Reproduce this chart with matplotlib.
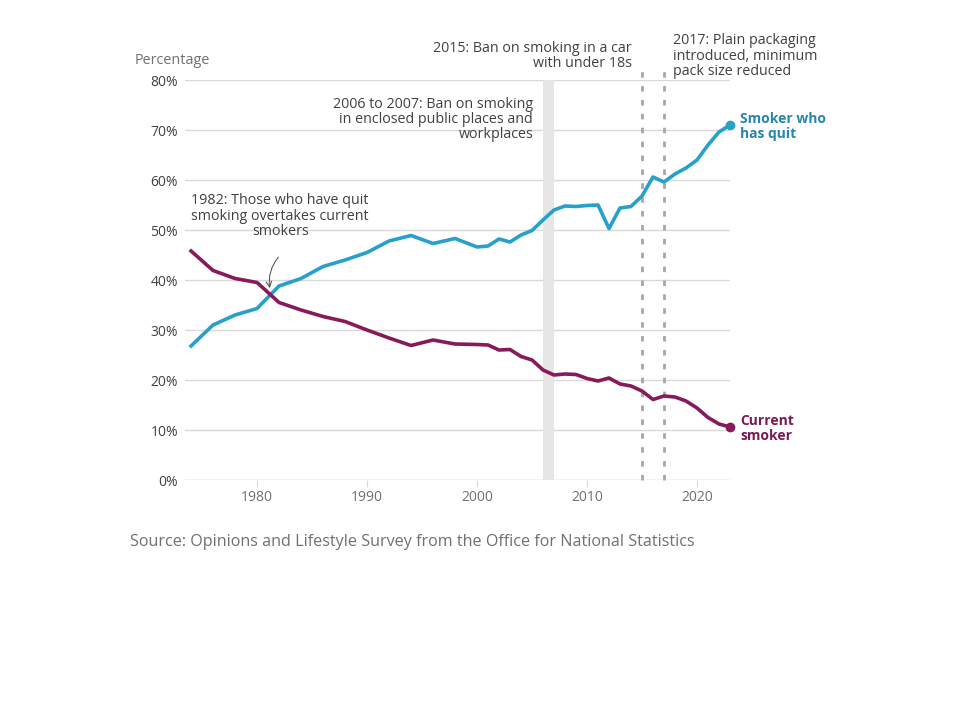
import matplotlib
matplotlib.use("Agg")
import matplotlib.pyplot as plt

plt.rcParams["font.family"] = ["Open Sans", "DejaVu Sans"]

# Data (percent of adults)
years = [1974, 1976, 1978, 1980, 1982, 1984, 1986, 1988, 1990, 1992, 1994,
         1996, 1998, 2000, 2001, 2002, 2003, 2004, 2005, 2006, 2007, 2008,
         2009, 2010, 2011, 2012, 2013, 2014, 2015, 2016, 2017, 2018, 2019,
         2020, 2021, 2022, 2023]
quit_pct = [26.8, 31.0, 33.0, 34.3, 38.8, 40.3, 42.7, 44.0, 45.5, 47.8, 48.9,
            47.3, 48.3, 46.6, 46.8, 48.2, 47.6, 49.0, 49.9, 52.0, 54.0, 54.8,
            54.7, 54.9, 55.0, 50.3, 54.4, 54.7, 56.8, 60.6, 59.6, 61.2, 62.4,
            64.0, 67.0, 69.6, 71.0]
current_pct = [45.8, 41.9, 40.3, 39.5, 35.5, 34.0, 32.7, 31.7, 30.0, 28.4, 26.9,
               28.0, 27.2, 27.1, 27.0, 26.0, 26.1, 24.7, 24.0, 22.0, 21.0, 21.2,
               21.1, 20.3, 19.8, 20.4, 19.2, 18.8, 17.8, 16.1, 16.8, 16.6, 15.8,
               14.4, 12.5, 11.2, 10.6]

y_ticks = [0, 10, 20, 30, 40, 50, 60, 70, 80]
x_ticks = [1980, 1990, 2000, 2010, 2020]
ban_span = (2006, 2007)
event_years = [2015, 2017]

BLUE = "#27a0cc"
PURPLE = "#871a5b"
BLUE_LABEL = "#2786a9"
PURPLE_LABEL = "#7c1853"
TEXT = "#414042"
GREY = "#707071"
FS = 10.3

fig = plt.figure(figsize=(9.6, 7.2), dpi=100)
ax = fig.add_axes([185 / 960, 1 - 480 / 720, 545 / 960, 400 / 720])

ax.set_xlim(1973.45, 2023)
ax.set_ylim(0, 80)

for y in y_ticks:
    ax.axhline(y, color="#d9d9d9" if y else "#bfbfbf", lw=1, zorder=0)

ax.axvspan(*ban_span, color="#e6e6e6", lw=0, zorder=0.5)
for ev in event_years:
    ax.plot([ev, ev], [0, 82], color="#a6a6a6", lw=2, ls=(0, (2, 3)),
            clip_on=False, zorder=1)

ax.plot(years, quit_pct, color=BLUE, lw=2.6, zorder=3, solid_joinstyle="round")
ax.plot(years, current_pct, color=PURPLE, lw=2.6, zorder=3, solid_joinstyle="round")
ax.plot(years[-1], quit_pct[-1], "o", color=BLUE, ms=6, clip_on=False, zorder=4)
ax.plot(years[-1], current_pct[-1], "o", color=PURPLE, ms=6, clip_on=False, zorder=4)

for s in ax.spines.values():
    s.set_visible(False)
ax.set_yticks(y_ticks)
ax.set_yticklabels([f"{v}%" for v in y_ticks])
ax.set_xticks(x_ticks)
ax.tick_params(axis="y", length=0, pad=5, labelsize=10, labelcolor=TEXT)
ax.tick_params(axis="x", length=5, color="#d9d9d9", pad=2, labelsize=10,
               labelcolor=GREY)

fig.text(135 / 960, 1 - 60 / 720, "Percentage", fontsize=10.4, color=GREY,
         va="center", ha="left")

# annotations
ax.text(2005.1, 76.6, "2006 to 2007: Ban on smoking\nin enclosed public places and\nworkplaces",
        ha="right", va="top", fontsize=FS, color=TEXT, linespacing=1.02)
ax.text(2014.1, 87.9, "2015: Ban on smoking in a car\nwith under 18s",
        ha="right", va="top", fontsize=FS, color=TEXT, linespacing=1.02,
        clip_on=False)
ax.text(2017.8, 89.3, "2017: Plain packaging\nintroduced, minimum\npack size reduced",
        ha="left", va="top", fontsize=FS, color=TEXT, linespacing=1.02,
        clip_on=False)
ax.text(1982.1, 57.3, "1982: Those who have quit\nsmoking overtakes current\nsmokers",
        ha="center", va="top", fontsize=FS, color=TEXT, linespacing=1.02)
ax.annotate("", xy=(1981.2, 37.8), xytext=(1982.1, 45.0),
            arrowprops=dict(arrowstyle="->", color="#595959", lw=0.8,
                            connectionstyle="arc3,rad=0.25"))

ax.text(2023.9, quit_pct[-1] - 0.3, "Smoker who\nhas quit", ha="left", va="center",
        fontsize=10, color=BLUE_LABEL, fontweight="bold", linespacing=1.1,
        clip_on=False)
ax.text(2023.9, current_pct[-1] - 0.3, "Current\nsmoker", ha="left", va="center",
        fontsize=10, color=PURPLE_LABEL, fontweight="bold", linespacing=1.1,
        clip_on=False)

fig.text(130 / 960, 1 - 542 / 720,
         "Source: Opinions and Lifestyle Survey from the Office for National Statistics",
         fontsize=11.65, color=GREY, ha="left", va="center")

fig.savefig("out.png", dpi=100)
